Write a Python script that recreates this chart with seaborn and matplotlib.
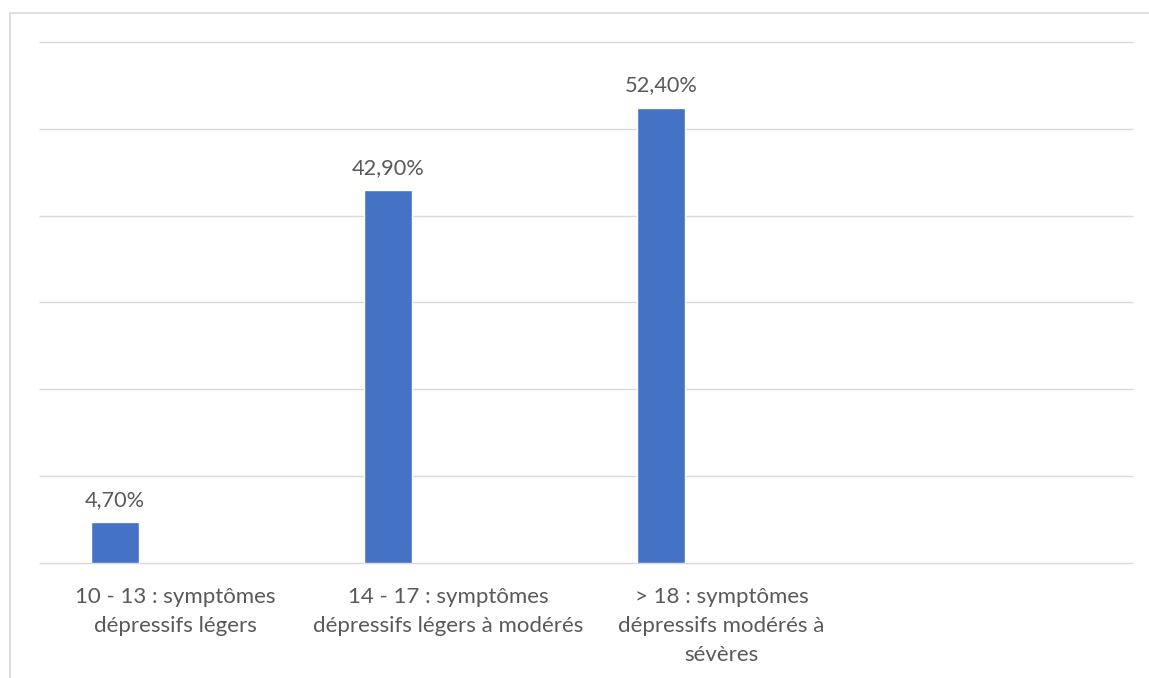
import matplotlib
matplotlib.use("Agg")
import matplotlib.pyplot as plt
import seaborn as sns
import pandas as pd
from matplotlib.patches import Rectangle

categories = [
    "10 - 13 : symptômes\ndépressifs légers",
    "14 - 17 : symptômes\ndépressifs légers à modérés",
    "> 18 : symptômes\ndépressifs modérés à\nsévères",
]
values = [4.70, 42.90, 52.40]
value_labels = ["4,70%", "42,90%", "52,40%"]
y_ticks = [0, 10, 20, 30, 40, 50, 60]

sns.set_theme(style="white")
plt.rcParams['font.family'] = ['Lato', 'DejaVu Sans']

W, H, DPI = 1149, 678, 100
TXT = "#595959"
GRID = "#D9D9D9"
fig = plt.figure(figsize=(W / DPI, H / DPI), dpi=DPI)
fig.patch.set_facecolor("white")
ax = fig.add_axes([39 / W, 1 - 563 / H, (1133 - 39) / W, (563 - 41.8) / H])

df = pd.DataFrame({"cat": categories, "val": values})
sns.barplot(data=df, x="cat", y="val", color="#4472C4", width=0.175,
            saturation=1, ax=ax, errorbar=None)

ax.set_ylim(0, 60)
ax.set_yticks(y_ticks)
ax.yaxis.grid(True, color=GRID, linewidth=1.0)
for gl in ax.get_ygridlines():
    gl.set_clip_on(False)
    gl.set_solid_capstyle("butt")
ax.xaxis.grid(False)
ax.set_axisbelow(True)
ax.tick_params(axis="y", left=False, labelleft=False)
for s in ax.spines.values():
    s.set_visible(False)

# bars sit left of the category slot centre (empty series slots in a cluster)
offset = 0.222
ax.set_xlim(-0.278, 3.729)
ax.set_xticks([i + offset for i in range(len(categories))])
ax.set_xticklabels(categories, fontsize=16, color=TXT, linespacing=1.55)
ax.tick_params(axis="x", length=0, pad=17.5)
ax.set_xlabel("")
ax.set_ylabel("")

ax.bar_label(ax.containers[0], labels=value_labels, padding=9, fontsize=15.7, color=TXT)

border = Rectangle((9.5 / W, -0.1), 1.2, 1 - 12.5 / H + 0.1, transform=fig.transFigure,
                   fill=False, edgecolor=GRID, linewidth=1.2, clip_on=False)
fig.add_artist(border)

fig.savefig("out.png", dpi=DPI, facecolor="white")
